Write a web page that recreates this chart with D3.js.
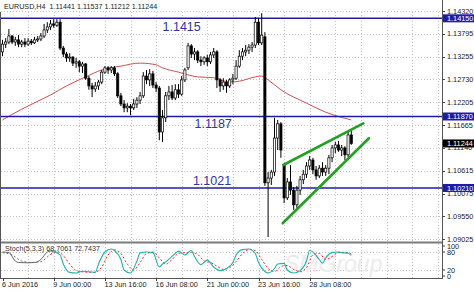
<!DOCTYPE html>
<html>
<head>
<meta charset="utf-8">
<script src="https://cdn.jsdelivr.net/npm/d3@7"></script>
<style>
  body { margin: 0; background: #fff; }
  svg { display: block; }
  text { font-family: "Liberation Sans", Arial, sans-serif; }
</style>
</head>
<body>
<svg id="chart" width="474" height="291"></svg>
<script>
// ---- data ----
const chartTitle = 'EURUSD,H4  1.11441 1.11537 1.11212 1.11244';

// H4 candles, [open, high, low, close], first bar = 6 Jun 2016 08:00
const candles = [
  [1.1337, 1.1365, 1.1327, 1.1355], [1.1355, 1.1369, 1.1346, 1.1360], [1.1360, 1.1390, 1.1355, 1.1374],
  [1.1374, 1.1376, 1.1355, 1.1360], [1.1360, 1.1372, 1.1351, 1.1365], [1.1365, 1.1376, 1.1348, 1.1355],
  [1.1355, 1.1365, 1.1348, 1.1360], [1.1360, 1.1369, 1.1348, 1.1355], [1.1355, 1.1369, 1.1351, 1.1362],
  [1.1362, 1.1367, 1.1353, 1.1358], [1.1358, 1.1372, 1.1355, 1.1365], [1.1365, 1.1374, 1.1360, 1.1367],
  [1.1367, 1.1381, 1.1362, 1.1374], [1.1374, 1.1402, 1.1369, 1.1388], [1.1388, 1.1406, 1.1381, 1.1395],
  [1.1395, 1.1411, 1.1388, 1.1402], [1.1402, 1.1413, 1.1393, 1.1399], [1.1399, 1.1413, 1.1395, 1.1406],
  [1.1406, 1.1413, 1.1341, 1.1346], [1.1346, 1.1351, 1.1325, 1.1332], [1.1332, 1.1337, 1.1314, 1.1323],
  [1.1323, 1.1334, 1.1314, 1.1325], [1.1325, 1.1327, 1.1304, 1.1311], [1.1311, 1.1323, 1.1300, 1.1314],
  [1.1314, 1.1318, 1.1290, 1.1304], [1.1304, 1.1314, 1.1288, 1.1309], [1.1309, 1.1311, 1.1272, 1.1276],
  [1.1276, 1.1281, 1.1249, 1.1258], [1.1258, 1.1265, 1.1232, 1.1251], [1.1251, 1.1267, 1.1244, 1.1258],
  [1.1258, 1.1272, 1.1249, 1.1267], [1.1267, 1.1295, 1.1262, 1.1290], [1.1290, 1.1304, 1.1286, 1.1300],
  [1.1300, 1.1304, 1.1286, 1.1295], [1.1295, 1.1304, 1.1288, 1.1300], [1.1300, 1.1304, 1.1281, 1.1286],
  [1.1286, 1.1290, 1.1230, 1.1235], [1.1235, 1.1242, 1.1211, 1.1216], [1.1216, 1.1225, 1.1197, 1.1207],
  [1.1207, 1.1218, 1.1197, 1.1211], [1.1211, 1.1216, 1.1190, 1.1207], [1.1207, 1.1228, 1.1202, 1.1216],
  [1.1216, 1.1232, 1.1207, 1.1225], [1.1225, 1.1244, 1.1216, 1.1235], [1.1235, 1.1290, 1.1230, 1.1281],
  [1.1281, 1.1295, 1.1262, 1.1272], [1.1272, 1.1297, 1.1258, 1.1286], [1.1286, 1.1293, 1.1253, 1.1260],
  [1.1260, 1.1267, 1.1244, 1.1253], [1.1253, 1.1258, 1.1132, 1.1151], [1.1151, 1.1202, 1.1128, 1.1184],
  [1.1184, 1.1244, 1.1174, 1.1235], [1.1235, 1.1258, 1.1225, 1.1244], [1.1244, 1.1260, 1.1225, 1.1230],
  [1.1230, 1.1262, 1.1225, 1.1249], [1.1249, 1.1262, 1.1230, 1.1239], [1.1239, 1.1281, 1.1235, 1.1272],
  [1.1272, 1.1300, 1.1267, 1.1295], [1.1300, 1.1358, 1.1295, 1.1351], [1.1351, 1.1355, 1.1323, 1.1332],
  [1.1332, 1.1346, 1.1318, 1.1337], [1.1337, 1.1341, 1.1311, 1.1318], [1.1318, 1.1327, 1.1304, 1.1314],
  [1.1314, 1.1327, 1.1307, 1.1323], [1.1323, 1.1330, 1.1304, 1.1314], [1.1314, 1.1337, 1.1309, 1.1330],
  [1.1330, 1.1346, 1.1323, 1.1337], [1.1337, 1.1341, 1.1253, 1.1272], [1.1272, 1.1276, 1.1244, 1.1258],
  [1.1258, 1.1276, 1.1249, 1.1267], [1.1267, 1.1272, 1.1242, 1.1258], [1.1258, 1.1276, 1.1253, 1.1272],
  [1.1272, 1.1286, 1.1262, 1.1276], [1.1276, 1.1318, 1.1272, 1.1304], [1.1304, 1.1341, 1.1300, 1.1327],
  [1.1327, 1.1346, 1.1318, 1.1337], [1.1337, 1.1353, 1.1327, 1.1341], [1.1341, 1.1355, 1.1332, 1.1348],
  [1.1348, 1.1360, 1.1337, 1.1353], [1.1353, 1.1418, 1.1346, 1.1406], [1.1406, 1.1416, 1.1353, 1.1358],
  [1.1358, 1.1427, 1.1353, 1.1376], [1.1372, 1.1383, 1.1026, 1.1033], [1.1033, 1.1058, 1.0907, 1.1044],
  [1.1044, 1.1063, 1.1028, 1.1058], [1.1058, 1.1184, 1.1049, 1.1137], [1.1137, 1.1179, 1.1109, 1.1170],
  [1.1170, 1.1174, 1.1091, 1.1109], [1.1074, 1.1077, 1.0986, 1.0998], [1.0998, 1.1044, 1.0993, 1.1035],
  [1.1035, 1.1074, 1.1005, 1.1016], [1.1016, 1.1023, 1.0970, 1.0982], [1.0982, 1.1026, 1.0972, 1.1016],
  [1.1016, 1.1049, 1.1005, 1.1040], [1.1040, 1.1063, 1.1030, 1.1053], [1.1053, 1.1081, 1.1044, 1.1072],
  [1.1072, 1.1095, 1.1063, 1.1086], [1.1086, 1.1091, 1.1053, 1.1063], [1.1063, 1.1072, 1.1040, 1.1049],
  [1.1049, 1.1074, 1.1044, 1.1067], [1.1067, 1.1081, 1.1049, 1.1058], [1.1058, 1.1074, 1.1049, 1.1067],
  [1.1067, 1.1098, 1.1053, 1.1091], [1.1091, 1.1121, 1.1081, 1.1114], [1.1114, 1.1128, 1.1102, 1.1121],
  [1.1121, 1.1130, 1.1105, 1.1109], [1.1109, 1.1121, 1.1095, 1.1114], [1.1114, 1.1118, 1.1086, 1.1098],
  [1.1098, 1.1151, 1.1093, 1.1144], [1.11441, 1.11537, 1.11212, 1.11244]
];

// moving average, [bar index, price]
const maPoints = [
  [0, 1.1179], [6, 1.1204], [15, 1.1237], [20, 1.1258], [26, 1.1279], [31, 1.1295],
  [37, 1.1304], [43, 1.1311], [48, 1.1307], [50, 1.1300], [55, 1.1290], [61, 1.1279],
  [66, 1.1277], [71, 1.1267], [74, 1.1269], [79, 1.1279], [81, 1.1281], [83, 1.1272],
  [87, 1.1249], [95, 1.1218], [101, 1.1197], [109, 1.1179]
];

const levelPrices = [1.1415, 1.1187, 1.1021];
const levelTexts = ['1.1415', '1.1187', '1.1021'];
const levelAxisTexts = ['1.14150', '1.11870', '1.10210'];
const lastPrice = 1.11244;
const lastPriceText = '1.11244';

const priceTicks = [1.14320, 1.13795, 1.13255, 1.12730, 1.12205, 1.11665, 1.11140, 1.10615, 1.10075, 1.09550, 1.09025];
const priceTickLabels = ['1.14320', '1.13795', '1.13255', '1.12730', '1.12205', '1.11665', '1.11140', '1.10615', '1.10075', '1.09550', '1.09025'];

// rising wedge, [bar index, price]
const wedgeUpper = [[87.75, 1.10744], [112.75, 1.11712]];
const wedgeLower = [[87.56, 1.09390], [114.5, 1.11364]];

const dateTickIdx = [0, 16, 32, 48, 64, 80, 96];
const dateTickLabels = ['6 Jun 2016', '9 Jun 00:00', '13 Jun 16:00', '16 Jun 08:00', '21 Jun 00:00', '23 Jun 16:00', '28 Jun 08:00'];

// stochastic %K / %D, [bar index, value]
const stochTitle = 'Stoch(5,3,3) 68.7061 72.7437';
const stochK = [
  [0, 80], [2, 78], [4, 50], [5, 45], [8, 44], [10, 45], [12, 55], [14, 80], [15, 83], [16, 82],
  [18, 70], [19, 40], [21, 12], [23, 10], [25, 16], [27, 14], [29, 12], [30, 40], [32, 80], [34, 90],
  [35, 85], [37, 55], [38, 20], [40, 10], [42, 50], [43, 77], [45, 80], [47, 78], [49, 30], [50, 40],
  [51, 47], [54, 75], [55, 83], [57, 70], [59, 85], [60, 65], [62, 38], [64, 53], [66, 30], [68, 18],
  [70, 25], [72, 45], [73, 70], [75, 88], [77, 90], [79, 75], [80, 45], [82, 15], [83, 10], [85, 25],
  [86, 40], [88, 42], [89, 20], [91, 10], [93, 18], [95, 50], [96, 85], [97, 80], [99, 55], [100, 43],
  [101, 60], [103, 78], [105, 80], [106, 78], [108, 76], [109, 68.7]
];
const stochD = [
  [0, 78], [3, 70], [6, 50], [9, 45], [12, 48], [15, 72], [17, 82], [19, 68], [21, 40], [23, 18],
  [26, 13], [29, 12], [31, 30], [33, 70], [35, 87], [37, 75], [39, 40], [41, 20], [43, 45], [45, 75],
  [47, 80], [49, 60], [51, 40], [53, 55], [55, 75], [57, 78], [59, 78], [61, 72], [63, 50], [65, 45],
  [67, 33], [69, 22], [71, 28], [73, 48], [75, 75], [77, 88], [79, 85], [81, 55], [83, 25], [85, 15],
  [87, 32], [89, 35], [91, 22], [93, 14], [95, 28], [97, 70], [99, 75], [101, 55], [103, 65], [105, 78],
  [107, 79], [109, 72.7]
];
const stochTicks = [100, 80, 20, 0];
const stochLevels = [80, 20];

// ---- layout ----
const W = 474, H = 291;
const plotRight = 442;
const mainTop = 0, mainBottom = 242;
const subTop = 244, subBottom = 278;
const barStep = 3.2, firstBarX = 2.5;
const maxBars = Math.floor((plotRight - firstBarX) / barStep);

const COL_LEVEL = '#1c1ca8';
const COL_GRID = '#c4c4c4';

const svg = d3.select('#chart');

const x = d3.scaleLinear().domain([0, 100]).range([firstBarX, firstBarX + 100 * barStep]);
const y = d3.scaleLinear().domain([1.09025, 1.14320]).range([239, 11]);
const ys = d3.scaleLinear().domain([0, 100]).range([276, 246]);

// grid
const gridIdx = d3.range(8, maxBars + 1, 8);
const grid = svg.append('g').attr('class', 'grid')
  .attr('stroke', COL_GRID).attr('stroke-dasharray', '1,2').attr('stroke-width', 1);
grid.selectAll('line.v').data(gridIdx).join('line').attr('class', 'v')
  .attr('x1', d => Math.round(x(d)) + 0.5).attr('x2', d => Math.round(x(d)) + 0.5)
  .attr('y1', mainTop + 12).attr('y2', mainBottom);
grid.selectAll('line.vs').data(gridIdx).join('line').attr('class', 'vs')
  .attr('x1', d => Math.round(x(d)) + 0.5).attr('x2', d => Math.round(x(d)) + 0.5)
  .attr('y1', subTop).attr('y2', subBottom);
grid.selectAll('line.h').data(priceTicks).join('line').attr('class', 'h')
  .attr('x1', 1).attr('x2', plotRight)
  .attr('y1', d => Math.round(y(d)) + 0.5).attr('y2', d => Math.round(y(d)) + 0.5);
grid.selectAll('line.hs').data(stochLevels).join('line').attr('class', 'hs')
  .attr('x1', 1).attr('x2', plotRight)
  .attr('y1', d => Math.round(ys(d)) + 0.5).attr('y2', d => Math.round(ys(d)) + 0.5);

// watermark (faint, kept inside the stochastic pane)
svg.append('text').attr('x', 284).attr('y', 272)
  .attr('font-family', '"DejaVu Serif", serif').attr('font-style', 'italic')
  .attr('font-size', 23).attr('fill', '#ececec').text('SMGroup');

// moving average
svg.append('path').datum(maPoints)
  .attr('fill', 'none').attr('stroke', '#d05050').attr('stroke-width', 1)
  .attr('d', d3.line().x(d => x(d[0])).y(d => y(d[1])).curve(d3.curveMonotoneX));

// horizontal levels
svg.append('g').selectAll('line').data(levelPrices).join('line')
  .attr('x1', 1).attr('x2', plotRight)
  .attr('y1', d => y(d)).attr('y2', d => y(d))
  .attr('stroke', COL_LEVEL).attr('stroke-width', 1.6);

// candles
const bodyW = 2.2;
const cg = svg.append('g').attr('class', 'candles');
cg.selectAll('line').data(candles).join('line')
  .attr('x1', (d, i) => x(i)).attr('x2', (d, i) => x(i))
  .attr('y1', d => y(d[1])).attr('y2', d => y(d[2]))
  .attr('stroke', '#000').attr('stroke-width', 1);
cg.selectAll('rect').data(candles).join('rect')
  .attr('x', (d, i) => x(i) - bodyW / 2)
  .attr('width', bodyW)
  .attr('y', d => y(Math.max(d[0], d[3])))
  .attr('height', d => Math.max(1, Math.abs(y(d[0]) - y(d[3]))))
  .attr('fill', d => d[3] >= d[0] ? '#fff' : '#000')
  .attr('stroke', '#000').attr('stroke-width', 0.7);

// wedge
const wedgeLine = d3.line().x(d => x(d[0])).y(d => y(d[1]));
svg.append('g').selectAll('path').data([wedgeUpper, wedgeLower]).join('path')
  .attr('d', wedgeLine).attr('fill', 'none')
  .attr('stroke', '#23a023').attr('stroke-width', 2.6).attr('stroke-linecap', 'round');

// level labels
const levelLabelPos = [[50, 31], [60, 128], [59.5, 185]];
svg.append('g').selectAll('text').data(levelTexts).join('text')
  .attr('x', (d, i) => x(levelLabelPos[i][0]))
  .attr('y', (d, i) => levelLabelPos[i][1])
  .attr('font-size', 12.5).attr('fill', '#3434a4').text(d => d);

// title
svg.append('text').attr('x', 4).attr('y', 9).attr('font-size', 7.2).attr('fill', '#222')
  .attr('xml:space', 'preserve').style('white-space', 'pre').text(chartTitle);

// separators and frame
svg.append('line').attr('x1', 0).attr('x2', plotRight).attr('y1', 242.5).attr('y2', 242.5)
  .attr('stroke', '#7a7a7a').attr('stroke-width', 2.2);
svg.append('line').attr('x1', 0).attr('x2', plotRight + 0.5).attr('y1', subBottom + 0.5).attr('y2', subBottom + 0.5)
  .attr('stroke', '#555').attr('stroke-width', 1);
svg.append('line').attr('x1', 0.5).attr('x2', 0.5).attr('y1', 12).attr('y2', subBottom)
  .attr('stroke', '#555').attr('stroke-width', 1);
svg.append('line').attr('x1', plotRight + 0.5).attr('x2', plotRight + 0.5).attr('y1', 0).attr('y2', subBottom + 1)
  .attr('stroke', '#555').attr('stroke-width', 1);

// stochastic
const stLine = d3.line().x(d => x(d[0])).y(d => ys(d[1])).curve(d3.curveMonotoneX);
const splitIdx = 17;
const kHead = stochK.filter(d => d[0] <= splitIdx), kTail = stochK.filter(d => d[0] >= 16);
const dHead = stochD.filter(d => d[0] <= splitIdx), dTail = stochD.filter(d => d[0] >= 15);
svg.append('path').datum(dHead).attr('d', stLine).attr('fill', 'none')
  .attr('stroke', '#777').attr('stroke-width', 1).attr('stroke-dasharray', '2,2');
svg.append('path').datum(dTail).attr('d', stLine).attr('fill', 'none')
  .attr('stroke', '#ff2a2a').attr('stroke-width', 1).attr('stroke-dasharray', '2,2');
svg.append('path').datum(kHead).attr('d', stLine).attr('fill', 'none')
  .attr('stroke', '#666').attr('stroke-width', 1);
svg.append('path').datum(kTail).attr('d', stLine).attr('fill', 'none')
  .attr('stroke', '#20b2aa').attr('stroke-width', 1.1);
svg.append('text').attr('x', 5).attr('y', 251).attr('font-size', 7.2).attr('fill', '#333').text(stochTitle);

// price axis
const ax = svg.append('g').attr('class', 'price-axis');
ax.selectAll('line').data(priceTicks).join('line')
  .attr('x1', plotRight).attr('x2', plotRight + 3)
  .attr('y1', d => Math.round(y(d)) + 0.5).attr('y2', d => Math.round(y(d)) + 0.5)
  .attr('stroke', '#444');
ax.selectAll('text').data(priceTicks).join('text')
  .attr('x', plotRight + 5).attr('y', d => y(d)).attr('dy', '0.35em')
  .attr('font-size', 7.3).attr('fill', '#222')
  .text((d, i) => priceTickLabels[i]);

// stoch axis
const sax = svg.append('g');
sax.selectAll('line').data(stochTicks).join('line')
  .attr('x1', plotRight).attr('x2', plotRight + 3)
  .attr('y1', d => ys(d)).attr('y2', d => ys(d)).attr('stroke', '#444');
sax.selectAll('text').data(stochTicks).join('text')
  .attr('x', plotRight + 5).attr('y', d => ys(d)).attr('dy', '0.35em')
  .attr('font-size', 7.3).attr('fill', '#222').text(d => d);

// price markers
const markers = levelPrices.map((p, i) => ({ p, t: levelAxisTexts[i], c: COL_LEVEL }))
  .concat([{ p: lastPrice, t: lastPriceText, c: '#000' }]);
const mk = svg.append('g').selectAll('g').data(markers).join('g')
  .attr('transform', d => `translate(${plotRight + 1},${y(d.p)})`);
mk.append('rect').attr('x', 0).attr('y', -4).attr('width', W - plotRight - 1).attr('height', 8)
  .attr('fill', d => d.c);
mk.append('text').attr('x', 4).attr('dy', '0.35em').attr('font-size', 7.3).attr('fill', '#fff')
  .text(d => d.t);

// time axis
const tx = svg.append('g');
tx.selectAll('line').data(dateTickIdx).join('line')
  .attr('x1', d => Math.round(x(d)) + 0.5).attr('x2', d => Math.round(x(d)) + 0.5)
  .attr('y1', subBottom).attr('y2', subBottom + 3).attr('stroke', '#444');
tx.selectAll('text').data(dateTickIdx).join('text')
  .attr('x', d => x(d) - 0.5).attr('y', 287)
  .attr('font-size', 7.3).attr('fill', '#222')
  .text((d, i) => dateTickLabels[i]);
</script>
</body>
</html>
